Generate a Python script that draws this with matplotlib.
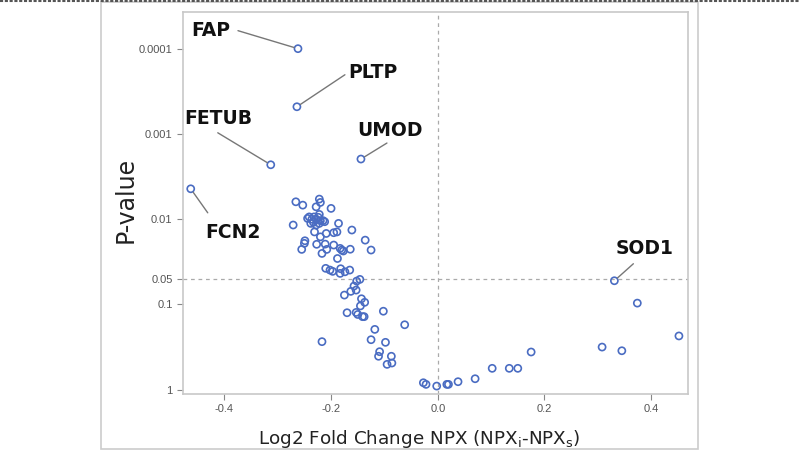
import numpy as np
import matplotlib
matplotlib.use('Agg')
import matplotlib.pyplot as plt
from matplotlib.patches import Rectangle
from matplotlib.lines import Line2D

# log2 fold change and p-value of every protein
log2fc = [
  -0.262, -0.264, -0.313, -0.144, -0.463, 0.331,
  -0.266, -0.253, -0.222, -0.220, -0.228, -0.200, -0.222,
  -0.244, -0.241, -0.236, -0.232, -0.228, -0.224, -0.220, -0.215, -0.212,
  -0.238, -0.233, -0.228, -0.222, -0.231,
  -0.271, -0.186, -0.189, -0.195, -0.209, -0.220, -0.161,
  -0.249, -0.250, -0.255, -0.227, -0.211, -0.217, -0.208, -0.195,
  -0.183, -0.180, -0.177, -0.164, -0.136, -0.125, -0.188,
  -0.210, -0.202, -0.197, -0.182, -0.183, -0.174, -0.165,
  -0.146, -0.152, -0.157, -0.153, -0.163, -0.175, -0.143, -0.137, -0.145,
  -0.170, -0.153, -0.150, -0.141, -0.138, -0.102, -0.062, -0.118, -0.125,
  -0.217, -0.098, -0.109, -0.111, -0.087, -0.095, -0.086,
  -0.027, -0.022, -0.002, 0.017, 0.020, 0.038, 0.070, 0.102, 0.134, 0.150,
  0.175, 0.308, 0.345, 0.374, 0.452,
]
pvalues = [
  0.0001, 0.00048, 0.0023, 0.00197, 0.0044, 0.0527,
  0.00625, 0.00684, 0.00581, 0.00636, 0.00716, 0.00747, 0.00879,
  0.0098, 0.0094, 0.0100, 0.0094, 0.0100, 0.0095, 0.0104, 0.0104, 0.0107,
  0.0112, 0.0109, 0.0117, 0.0112, 0.0141,
  0.0117, 0.0112, 0.0141, 0.0144, 0.0147, 0.0161, 0.0134,
  0.0179, 0.0192, 0.0226, 0.0197, 0.0196, 0.0252, 0.0226, 0.0201,
  0.0220, 0.0230, 0.0236, 0.0225, 0.0176, 0.0230, 0.0289,
  0.0377, 0.0395, 0.0409, 0.0381, 0.0432, 0.0414, 0.0395,
  0.0508, 0.0532, 0.0608, 0.0678, 0.0702, 0.0776, 0.0857, 0.0944, 0.104,
  0.125, 0.124, 0.131, 0.139, 0.139, 0.120, 0.173, 0.196, 0.259,
  0.273, 0.278, 0.358, 0.405, 0.405, 0.504, 0.486,
  0.828, 0.865, 0.906, 0.865, 0.865, 0.805, 0.743, 0.561, 0.561, 0.561,
  0.361, 0.316, 0.349, 0.0964, 0.234,
]

# labelled proteins: name, index into the arrays above
labels = ['FAP', 'PLTP', 'FETUB', 'UMOD', 'FCN2', 'SOD1']
label_idx = [0, 1, 2, 3, 4, 5]
# text offset and leader-line end offset, in pixels from the point
text_off = [(-87, 18), (76, 34), (-52, 46), (29, 29), (42, -44), (30, 32)]
line_off = [(-60, 18), (48, 32), (-53, 32), (26, 16), (17, -24), (19, 17)]

xticks = [-0.4, -0.2, 0.0, 0.2, 0.4]
yticks = [0.0001, 0.001, 0.01, 0.05, 0.1, 1]
ytick_labels = ['0.0001', '0.001', '0.01', '0.05', '0.1', '1']

fig = plt.figure(figsize=(8, 4.5), dpi=100)
ax = fig.add_axes([183/800, 1 - 394/450, (688 - 183)/800, (394 - 12)/450])

ax.scatter(log2fc, pvalues, s=26, facecolors='none', edgecolors='#4a6cc2', linewidths=1.2, zorder=3)

ax.set_yscale('log')
ax.set_xlim(-0.4775, 0.469)
ax.set_ylim(10**0.05, 10**-4.43)

ax.axvline(0, color='#aaaaaa', ls=(0, (3, 3)), lw=0.9, zorder=1)
ax.axhline(0.05, color='#aaaaaa', ls=(0, (3, 3)), lw=0.9, zorder=1)

ax.set_xticks(xticks)
ax.set_xticklabels([f'{t:.1f}' for t in xticks])
ax.set_yticks(yticks)
ax.set_yticklabels(ytick_labels)
ax.yaxis.set_minor_locator(matplotlib.ticker.NullLocator())
ax.tick_params(colors='#888888', labelcolor='#555555', labelsize=8, length=4, width=0.8)
for lbl in ax.get_xticklabels() + ax.get_yticklabels():
  lbl.set_family('Liberation Sans')
for sp in ax.spines.values():
  sp.set_color('#c8c8c8')
  sp.set_linewidth(1.2)

for name, i, toff, loff in zip(labels, label_idx, text_off, line_off):
  xy = (log2fc[i], pvalues[i])
  ax.annotate('', xy=xy, xytext=loff, textcoords='offset pixels',
              arrowprops=dict(arrowstyle='-', color='#777777', lw=1, shrinkA=0, shrinkB=3))
  ax.annotate(name, xy=xy, xytext=toff, textcoords='offset pixels',
              ha='center', va='center', fontsize=13.5, fontweight='bold', family='DejaVu Sans', color='#111111')

fig.text(126/800, 1 - 200/450, 'P-value', rotation=90, ha='center', va='center',
         fontsize=17, family='DejaVu Sans', color='#222222')
fig.text(419/800, 1 - 439/450, r'Log2 Fold Change NPX (NPX$_\mathregular{i}$-NPX$_\mathregular{s}$)',
         ha='center', va='center', fontsize=13.2, family='DejaVu Sans', color='#222222')

# outer frame of the original image
fig.patches.append(Rectangle((101/800, 0.002), (698 - 101)/800, 0.994, transform=fig.transFigure,
                             fill=False, edgecolor='#cccccc', lw=1.2))
fig.lines.append(Line2D([0, 1], [0.998, 0.998], transform=fig.transFigure, color='#555555', lw=1.5, ls=(0, (1.5, 0.8))))

fig.savefig('out.png', dpi=100)
